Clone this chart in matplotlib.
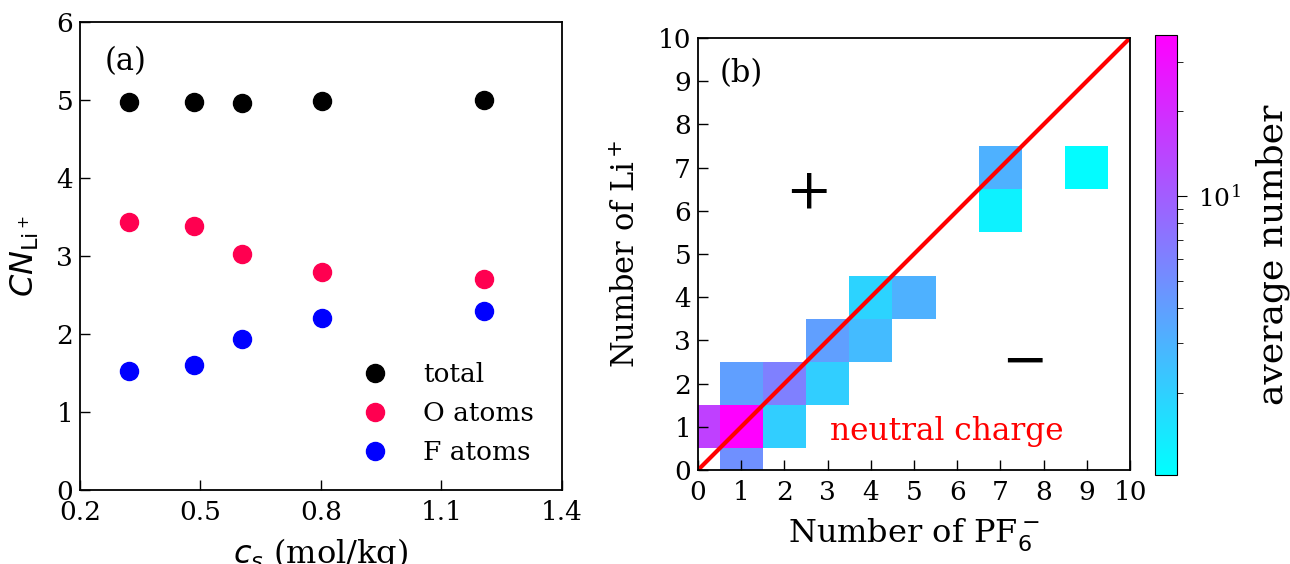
import numpy as np
import matplotlib
matplotlib.use('Agg')
import matplotlib.pyplot as plt
from matplotlib.colors import LogNorm

plt.rcParams['font.family'] = 'DejaVu Serif'
plt.rcParams['mathtext.fontset'] = 'dejavusans'

# (a) coordination number of Li+ vs salt concentration
cs = [0.322, 0.484, 0.603, 0.803, 1.205]
cn_total = [4.975, 4.98, 4.965, 4.99, 5.00]
cn_O = [3.44, 3.39, 3.03, 2.80, 2.71]
cn_F = [1.53, 1.60, 1.94, 2.21, 2.30]

# (b) cluster composition map: (n PF6-, n Li+, average number)
n_pf6 = [0, 1, 1, 1, 2, 2, 3, 3, 4, 4, 5, 7, 7, 9]
n_li = [1, 1, 0, 2, 2, 1, 2, 3, 3, 4, 4, 7, 6, 7]
avg_num = [15.1, 37.4, 4.9, 3.96, 6.1, 2.06, 2.06, 3.96, 2.66, 1.92, 3.07, 3.07, 1.24, 1.07]

fig = plt.figure(figsize=(12.9, 5.64), dpi=100)

# ---- panel (a)
ax1 = fig.add_axes([0.062, 0.1312, 0.3736, 0.8298])
ax1.plot(cs, cn_total, 'o', color='black', ms=13, label='total')
ax1.plot(cs, cn_O, 'o', color='#ff0050', ms=13, label='O atoms')
ax1.plot(cs, cn_F, 'o', color='#0000ff', ms=13, label='F atoms')
ax1.set_xlim(0.2, 1.4)
ax1.set_ylim(0, 6)
ax1.set_xticks([0.2, 0.5, 0.8, 1.1, 1.4])
ax1.set_yticks(range(7))
ax1.tick_params(direction='in', labelsize=19, length=7, width=1)
ax1.tick_params(axis='x', pad=7)
ax1.tick_params(axis='y', pad=5)
ax1.set_xlabel(r'$c_s$ (mol/kg)', fontsize=23, labelpad=8)
ax1.set_ylabel(r'$CN_{\mathrm{Li}^+}$', fontsize=23, labelpad=11)
ax1.text(0.262, 5.49, '(a)', fontsize=22, va='center')
ax1.legend(loc='lower left', frameon=False, fontsize=19, handletextpad=0.82,
           borderaxespad=0, labelspacing=0.52, bbox_to_anchor=(0.535, 0.031))
for s in ax1.spines.values():
    s.set_linewidth(1.3)

# ---- panel (b)
ax2 = fig.add_axes([0.5411, 0.1667, 0.3349, 0.766])
grid = np.full((11, 11), np.nan)
for i, j, v in zip(n_pf6, n_li, avg_num):
    grid[j, i] = v
edges = np.arange(-0.5, 11.0, 1.0)
norm = LogNorm(vmin=1.02, vmax=37.4)
mesh = ax2.pcolormesh(edges, edges, np.ma.masked_invalid(grid), cmap='cool', norm=norm)
ax2.plot([0, 10], [0, 10], color='red', lw=3)
ax2.set_xlim(0, 10)
ax2.set_ylim(0, 10)
ax2.set_xticks(range(11))
ax2.set_yticks(range(11))
ax2.tick_params(direction='in', labelsize=19, length=7, width=1)
ax2.tick_params(axis='x', pad=7)
ax2.tick_params(axis='y', pad=5)
ax2.set_xlabel(r'Number of PF$_6^-$', fontsize=23, labelpad=8)
ax2.set_ylabel(r'Number of Li$^+$', fontsize=22, labelpad=11)
ax2.text(0.51, 9.17, '(b)', fontsize=22, va='center')
ax2.text(3.06, 0.88, 'neutral charge', color='red', fontsize=22.5, va='center')
ax2.text(2.55, 6.44, '+', fontsize=40, ha='center', va='center')
ax2.text(7.55, 2.5, '\u2212', fontsize=40, ha='center', va='center')
for s in ax2.spines.values():
    s.set_linewidth(1.3)

cax = fig.add_axes([1155 / 1290, 89 / 564, 22 / 1290, 440 / 564])
cb = fig.colorbar(mesh, cax=cax)
cb.ax.tick_params(labelsize=18, length=7, pad=8, which='major')
cb.ax.tick_params(length=4, which='minor')
cb.set_label('average number', fontsize=26)
cb.ax.yaxis.set_label_coords(4.55, 0.5)

fig.savefig('out.png', dpi=100)
